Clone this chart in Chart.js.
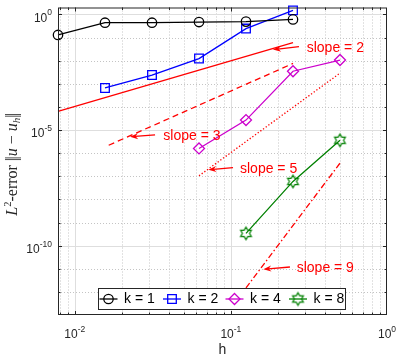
<!DOCTYPE html>
<html>
<head>
<meta charset="utf-8">
<script src="https://cdn.jsdelivr.net/npm/chart.js@4.4.0/dist/chart.umd.min.js"></script>
<style>
html, body { margin: 0; padding: 0; background: #fff; }
canvas { display: block; }
</style>
</head>
<body>
<canvas id="chart" width="399" height="357"></canvas>
<script>
/* DATA */
const kLabels = ["k = 1", "k = 2", "k = 4", "k = 8"];

const h1 = [0.0078125, 0.015625, 0.03125, 0.0625, 0.125, 0.25];
const err1 = [0.13, 0.44, 0.44, 0.47, 0.49, 0.61];
const h2 = [0.015625, 0.03125, 0.0625, 0.125, 0.25];
const err2 = [6.6e-4, 2.4e-3, 1.24e-2, 0.245, 1.5];
const h4 = [0.0625, 0.125, 0.25, 0.5];
const err4 = [1.6e-6, 2.7e-5, 3.5e-3, 1.07e-2];
const h8 = [0.125, 0.25, 0.5];
const err8 = [3.4e-10, 6e-8, 3.6e-6];

/* reference slopes, two end points each */
const slopeH2 = [0.0078125, 0.25];
const slopeE2 = [6.4e-5, 0.061];
const slopeH3 = [0.0165, 0.25];
const slopeE3 = [2.2e-6, 7.6e-3];
const slopeH5 = [0.0625, 0.5];
const slopeE5 = [1.05e-7, 2.9e-3];
const slopeH9 = [0.125, 0.5];
const slopeE9 = [1.5e-12, 3.7e-7];

/* annotations (data coords) */
const noteText = ["slope = 2", "slope = 3", "slope = 5", "slope = 9"];
const noteX = [0.306, 0.0369, 0.1144, 0.264];
const noteY = [0.0342, 5.28e-6, 2.11e-7, 1.11e-11];
const tailX = [0.273, 0.0327, 0.1032, 0.239];
const tailY = [0.0404, 6.22e-6, 2.37e-7, 1.19e-11];
const headX = [0.186, 0.0226, 0.0717, 0.1613];
const headY = [0.0302, 5.12e-6, 1.91e-7, 9.5e-12];

/* ticks */
const xTicks = [0.01, 0.1, 1];
const xTickExp = ["-2", "-1", "0"];
const yTicks = [1e-10, 1e-5, 1];
const yTickExp = ["-10", "-5", "0"];

const SANS = '"Liberation Sans", Arial, Helvetica, sans-serif';
const SERIF = '"Liberation Serif", "DejaVu Serif", "Times New Roman", serif';
const RED = "#ff0000";
const AXIS = "#262626";

function hexagram(color, r) {
    const s = Math.ceil(2 * r + 4);
    const c = document.createElement("canvas");
    c.width = s; c.height = s;
    const g = c.getContext("2d");
    g.strokeStyle = color;
    g.lineWidth = 1.2;
    g.beginPath();
    for (let i = 0; i < 12; i++) {
        const a = -Math.PI / 2 + i * Math.PI / 6;
        const rr = i % 2 === 0 ? r : r / Math.sqrt(3);
        const px = s / 2 + rr * Math.cos(a), py = s / 2 + rr * Math.sin(a);
        if (i === 0) g.moveTo(px, py); else g.lineTo(px, py);
    }
    g.closePath();
    g.stroke();
    return c;
}
const starImg = hexagram("#008000", 6.2);

const pts = (xs, ys) => xs.map((x, i) => ({ x: x, y: ys[i] }));

function series(label, xs, ys, color, style, radius) {
    return {
        label: label, data: pts(xs, ys), borderColor: color, borderWidth: 1.3,
        pointStyle: style, pointRadius: radius, pointBorderColor: color,
        pointBorderWidth: 1.3, pointBackgroundColor: "rgba(0,0,0,0)",
        tension: 0, clip: false
    };
}
function refLine(xs, ys, dash) {
    return {
        label: "", data: pts(xs, ys), borderColor: RED, borderWidth: 1.3,
        borderDash: dash, pointRadius: 0, tension: 0, clip: false
    };
}

/* PLUGIN: matlab-like axes, grid, annotations, legend */
function drawPow(ctx, exp, x, cy, align) {
    ctx.font = "12px " + SANS;
    const wb = ctx.measureText("10").width;
    ctx.font = "8.5px " + SANS;
    const we = ctx.measureText(exp).width;
    const w = wb + we;
    let x0 = align === "right" ? x - w : x - w / 2;
    ctx.fillStyle = AXIS;
    ctx.textAlign = "left";
    ctx.textBaseline = "alphabetic";
    ctx.font = "12px " + SANS;
    ctx.fillText("10", x0, cy + 4.3);
    ctx.font = "8.5px " + SANS;
    ctx.fillText(exp, x0 + wb, cy - 2);
}

function drawMarker(ctx, kind, x, y, color) {
    ctx.strokeStyle = color;
    ctx.lineWidth = 1.3;
    ctx.beginPath();
    if (kind === "circle") ctx.arc(x, y, 4.7, 0, Math.PI * 2);
    else if (kind === "rect") ctx.rect(x - 4.3, y - 4.3, 8.6, 8.6);
    else if (kind === "rectRot") {
        ctx.moveTo(x, y - 5.5); ctx.lineTo(x + 5.5, y); ctx.lineTo(x, y + 5.5); ctx.lineTo(x - 5.5, y); ctx.closePath();
    } else {
        ctx.drawImage(kind, x - kind.width / 2, y - kind.height / 2);
        return;
    }
    ctx.stroke();
}

function drawArrow(ctx, x0, y0, x1, y1) {
    const dx = x1 - x0, dy = y1 - y0, L = Math.hypot(dx, dy);
    const ux = dx / L, uy = dy / L, nx = -uy, ny = ux;
    const hl = 8, hw = 3;
    ctx.strokeStyle = RED;
    ctx.fillStyle = RED;
    ctx.lineWidth = 1.3;
    ctx.beginPath();
    ctx.moveTo(x0, y0);
    ctx.lineTo(x1 - ux * 5, y1 - uy * 5);
    ctx.stroke();
    ctx.beginPath();
    ctx.moveTo(x1, y1);
    ctx.lineTo(x1 - ux * hl + nx * hw, y1 - uy * hl + ny * hw);
    ctx.lineTo(x1 - ux * 5.5, y1 - uy * 5.5);
    ctx.lineTo(x1 - ux * hl - nx * hw, y1 - uy * hl - ny * hw);
    ctx.closePath();
    ctx.fill();
}

const matlabAxes = {
    id: "matlabAxes",
    beforeDatasetsDraw(chart) {
        const { ctx, chartArea: a, scales: { x, y } } = chart;
        ctx.save();
        ctx.lineWidth = 1;
        // minor grid (dotted)
        ctx.strokeStyle = "#c4c4c4";
        ctx.setLineDash([1, 2]);
        for (let d = -3; d <= 0; d++) {
            for (let m = 2; m <= 9; m++) {
                const v = m * Math.pow(10, d);
                if (v <= x.min || v >= x.max) continue;
                const px = Math.round(x.getPixelForValue(v)) + 0.5;
                ctx.beginPath(); ctx.moveTo(px, a.top); ctx.lineTo(px, a.bottom); ctx.stroke();
            }
        }
        for (let d = -12; d <= -1; d++) {
            if (d % 5 === 0) continue;
            const py = Math.round(y.getPixelForValue(Math.pow(10, d))) + 0.5;
            ctx.beginPath(); ctx.moveTo(a.left, py); ctx.lineTo(a.right, py); ctx.stroke();
        }
        // major grid (solid)
        ctx.setLineDash([]);
        ctx.strokeStyle = "#dedede";
        xTicks.forEach(v => {
            if (v >= x.max) return;
            const px = Math.round(x.getPixelForValue(v)) + 0.5;
            ctx.beginPath(); ctx.moveTo(px, a.top); ctx.lineTo(px, a.bottom); ctx.stroke();
        });
        yTicks.forEach(v => {
            const py = Math.round(y.getPixelForValue(v)) + 0.5;
            ctx.beginPath(); ctx.moveTo(a.left, py); ctx.lineTo(a.right, py); ctx.stroke();
        });
        ctx.restore();
    },
    afterDraw(chart) {
        const { ctx, chartArea: a, scales: { x, y } } = chart;
        ctx.save();
        // box
        ctx.strokeStyle = AXIS;
        ctx.lineWidth = 1;
        ctx.strokeRect(a.left + 0.5, a.top + 0.5, a.right - a.left - 1, a.bottom - a.top - 1);
        // tick marks
        ctx.beginPath();
        for (let d = -3; d <= 0; d++) {
            for (let m = 1; m <= 9; m++) {
                const v = m * Math.pow(10, d);
                if (v <= x.min || v >= x.max) continue;
                const len = m === 1 ? 4 : 2.5;
                const px = Math.round(x.getPixelForValue(v)) + 0.5;
                ctx.moveTo(px, a.bottom); ctx.lineTo(px, a.bottom - len);
                ctx.moveTo(px, a.top); ctx.lineTo(px, a.top + len);
            }
        }
        for (let d = -12; d <= 0; d++) {
            const len = d % 5 === 0 ? 4 : 2.5;
            const py = Math.round(y.getPixelForValue(Math.pow(10, d))) + 0.5;
            ctx.moveTo(a.left, py); ctx.lineTo(a.left + len, py);
            ctx.moveTo(a.right, py); ctx.lineTo(a.right - len, py);
        }
        ctx.stroke();
        // tick labels
        xTicks.forEach((v, i) => drawPow(ctx, xTickExp[i], x.getPixelForValue(v), 334, "center"));
        yTicks.forEach((v, i) => drawPow(ctx, yTickExp[i], a.left - 6, y.getPixelForValue(v) + 3, "right"));
        // axis labels
        ctx.fillStyle = AXIS;
        ctx.font = "14px " + SANS;
        ctx.textAlign = "center";
        ctx.textBaseline = "middle";
        ctx.fillText("h", (a.left + a.right) / 2, 350);

        const F = "16px " + SERIF;
        const parts = [
            ["L", "italic " + F, 0],
            ["2", "10.5px " + SERIF, -6.5],
            ["-error ", F, 0],
            ["||", F, 0, -1.5],
            ["u", "italic " + F, 0],
            [" \u2212 ", F, 0],
            ["u", "italic " + F, 0],
            ["h", "italic 11px " + SERIF, 3],
            ["||", F, 0, -1.5]
        ];
        const widthOf = p => {
            ctx.font = p[1];
            if (p[0] === "||") return ctx.measureText("|").width * 2 + p[3];
            return ctx.measureText(p[0]).width;
        };
        let total = 0;
        parts.forEach(p => { total += widthOf(p); });
        ctx.save();
        ctx.translate(17, (a.top + a.bottom) / 2 + 3);
        ctx.rotate(-Math.PI / 2);
        ctx.textAlign = "left";
        ctx.textBaseline = "alphabetic";
        let cx = -total / 2;
        parts.forEach(p => {
            ctx.font = p[1];
            if (p[0] === "||") {
                const wb = ctx.measureText("|").width;
                ctx.fillText("|", cx, p[2]);
                ctx.fillText("|", cx + wb + p[3], p[2]);
            } else {
                ctx.fillText(p[0], cx, p[2]);
            }
            cx += widthOf(p);
        });
        ctx.restore();

        // annotations
        noteText.forEach((t, i) => {
            drawArrow(ctx, x.getPixelForValue(tailX[i]), y.getPixelForValue(tailY[i]),
                x.getPixelForValue(headX[i]), y.getPixelForValue(headY[i]));
            ctx.fillStyle = RED;
            ctx.font = "14px " + SANS;
            ctx.textAlign = "left";
            ctx.textBaseline = "middle";
            ctx.fillText(t, x.getPixelForValue(noteX[i]), y.getPixelForValue(noteY[i]));
        });

        // legend
        const lx0 = 98.5, lx1 = 345.5, ly0 = 288.5, ly1 = 309.5, lcy = (ly0 + ly1) / 2;
        ctx.fillStyle = "#fff";
        ctx.fillRect(lx0, ly0, lx1 - lx0, ly1 - ly0);
        ctx.strokeStyle = AXIS;
        ctx.lineWidth = 1;
        ctx.strokeRect(lx0, ly0, lx1 - lx0, ly1 - ly0);
        const centers = [108.5, 172, 234.5, 298];
        chart.data.datasets.slice(0, 4).forEach((ds, i) => {
            const c = centers[i];
            ctx.strokeStyle = ds.borderColor;
            ctx.lineWidth = 1.3;
            ctx.beginPath(); ctx.moveTo(c - 9, lcy); ctx.lineTo(c + 9, lcy); ctx.stroke();
            drawMarker(ctx, ds.pointStyle, c, lcy, ds.borderColor);
            ctx.fillStyle = "#000";
            ctx.font = "14px " + SANS;
            ctx.textAlign = "left";
            ctx.textBaseline = "middle";
            ctx.fillText(kLabels[i], c + 15.5, lcy + 0.5);
        });
        ctx.restore();
    }
};

/* CHART */
new Chart(document.getElementById("chart"), {
    type: "line",
    data: {
        datasets: [
            series(kLabels[0], h1, err1, "#000000", "circle", 4.7),
            series(kLabels[1], h2, err2, "#0000ff", "rect", 6.1),
            series(kLabels[2], h4, err4, "#cc00cc", "rectRot", 5.5),
            series(kLabels[3], h8, err8, "#008000", starImg, 6.2),
            refLine(slopeH2, slopeE2, []),
            refLine(slopeH3, slopeE3, [6, 4]),
            refLine(slopeH5, slopeE5, [1.3, 2]),
            refLine(slopeH9, slopeE9, [6, 2.5, 1.5, 2.5])
        ]
    },
    options: {
        responsive: false,
        devicePixelRatio: 1,
        animation: false,
        layout: { padding: { top: 1, right: 12, left: 0, bottom: 0 } },
        plugins: { legend: { display: false }, tooltip: { enabled: false } },
        scales: {
            x: {
                type: "logarithmic", min: 0.0078125, max: 1,
                ticks: { display: false }, grid: { display: false }, border: { display: false },
                afterFit(s) { s.height = 42; }
            },
            y: {
                type: "logarithmic", min: 1e-13, max: 2,
                ticks: { display: false }, grid: { display: false }, border: { display: false },
                afterFit(s) { s.width = 58; }
            }
        }
    },
    plugins: [matlabAxes]
});
</script>
</body>
</html>
